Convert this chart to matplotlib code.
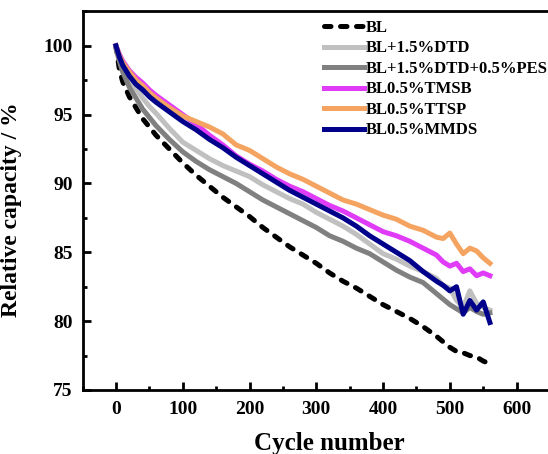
import matplotlib
matplotlib.use("Agg")
import matplotlib.pyplot as plt
from matplotlib.ticker import MultipleLocator

# cycle numbers where values were read
cycles = [0, 5, 10, 20, 30, 40, 50, 60, 80, 100, 120, 140, 160, 180, 200,
          220, 240, 260, 280, 300, 320, 340, 360, 380, 400, 420, 440, 460,
          480, 490, 500, 510, 520, 530, 540, 550, 560]

bl = [100, 98.3, 97.4, 96.3, 95.5, 94.7, 94.1, 93.5, 92.5, 91.5, 90.6, 89.8,
      89.0, 88.3, 87.6, 86.8, 86.1, 85.4, 84.8, 84.2, 83.5, 82.9, 82.4, 81.8,
      81.2, 80.7, 80.2, 79.6, 78.9, 78.5, 78.1, 77.8, 77.7, 77.5, 77.4, 77.1,
      76.9]
dtd = [100, 99.0, 98.4, 97.6, 96.9, 96.2, 95.6, 95.1, 94.0, 93.0, 92.4, 91.8,
       91.3, 90.9, 90.5, 89.9, 89.4, 88.9, 88.5, 87.9, 87.4, 86.9, 86.3, 85.6,
       84.9, 84.5, 84.0, 83.6, 83.1, 82.6, 82.4, 81.5, 81.0, 82.2, 81.3, 81.0,
       80.8]
pes = [99.8, 98.9, 98.1, 97.0, 96.2, 95.4, 94.8, 94.2, 93.2, 92.3, 91.6, 91.0,
       90.5, 90.0, 89.4, 88.8, 88.3, 87.8, 87.3, 86.8, 86.2, 85.8, 85.3, 84.9,
       84.3, 83.7, 83.2, 82.8, 82.0, 81.6, 81.2, 80.9, 80.6, 81.0, 80.7, 80.5,
       80.6]
tmsb = [100, 99.4, 98.9, 98.2, 97.7, 97.3, 96.8, 96.4, 95.7, 95.0, 94.3, 93.5,
        92.8, 92.0, 91.4, 90.9, 90.3, 89.8, 89.4, 88.9, 88.4, 88.0, 87.5, 87.0,
        86.5, 86.2, 85.8, 85.3, 84.8, 84.3, 84.0, 84.2, 83.6, 83.8, 83.3, 83.5,
        83.3]
ttsp = [100, 99.3, 98.8, 98.1, 97.5, 97.1, 96.6, 96.2, 95.5, 94.9, 94.5, 94.1,
        93.6, 92.8, 92.4, 91.8, 91.2, 90.7, 90.3, 89.8, 89.3, 88.8, 88.5, 88.1,
        87.7, 87.4, 86.9, 86.6, 86.1, 86.0, 86.4, 85.6, 84.9, 85.3, 85.1, 84.6,
        84.2]
mmds = [100, 99.2, 98.6, 97.8, 97.2, 96.8, 96.3, 95.9, 95.2, 94.5, 93.9, 93.2,
        92.6, 91.9, 91.3, 90.7, 90.1, 89.5, 89.0, 88.5, 88.0, 87.5, 86.9, 86.2,
        85.6, 85.0, 84.4, 83.6, 82.9, 82.6, 82.2, 82.5, 80.5, 81.5, 80.8, 81.4,
        79.9]

labels = ["BL", "BL+1.5%DTD", "BL+1.5%DTD+0.5%PES", "BL0.5%TMSB",
          "BL0.5%TTSP", "BL0.5%MMDS"]
colors = ["black", "#c0c0c0", "#808080", "#e03cf8", "#f4a460", "#00008b"]

plt.rcParams['font.family'] = ['Liberation Serif', 'DejaVu Serif']
plt.rcParams['font.weight'] = 'bold'

fig = plt.figure(figsize=(5.48, 4.54), dpi=100)
ax = fig.add_axes([0.1507, 0.141, 0.87, 0.834])

series = [bl, dtd, pes, tmsb, ttsp, mmds]
for i, ys in enumerate(series):
    if i == 0:
        ax.plot(cycles, ys, color=colors[i], lw=3.6, label=labels[i],
                dashes=(1.3, 1.9), dash_capstyle='round')
    else:
        ax.plot(cycles, ys, color=colors[i], lw=3.6, label=labels[i])

ax.set_xlim(-50, 664)
ax.set_ylim(75, 102.5)
ax.xaxis.set_major_locator(MultipleLocator(100))
ax.xaxis.set_minor_locator(MultipleLocator(50))
ax.yaxis.set_major_locator(MultipleLocator(5))
ax.yaxis.set_minor_locator(MultipleLocator(2.5))
ax.tick_params(which='both', direction='in', width=2, labelsize=14)
ax.tick_params(which='major', length=6)
ax.tick_params(which='minor', length=3)
ax.tick_params(axis='y', pad=7)
ax.tick_params(axis='x', pad=8)
for s in ax.spines.values():
    s.set_linewidth(2)

ax.set_xlabel("Cycle number", fontsize=18, fontweight='bold')
ax.xaxis.set_label_coords(0.517, -0.11)
ax.set_ylabel("Relative capacity / %", fontsize=17, fontweight='bold')
ax.yaxis.set_label_coords(-0.128, 0.477)

ax.legend(loc='upper right', frameon=False, fontsize=12, handlelength=2.4,
          labelspacing=0.27, handletextpad=0.1, borderaxespad=0.0,
          bbox_to_anchor=(0.99, 0.995))

fig.savefig("out.png", dpi=100)
